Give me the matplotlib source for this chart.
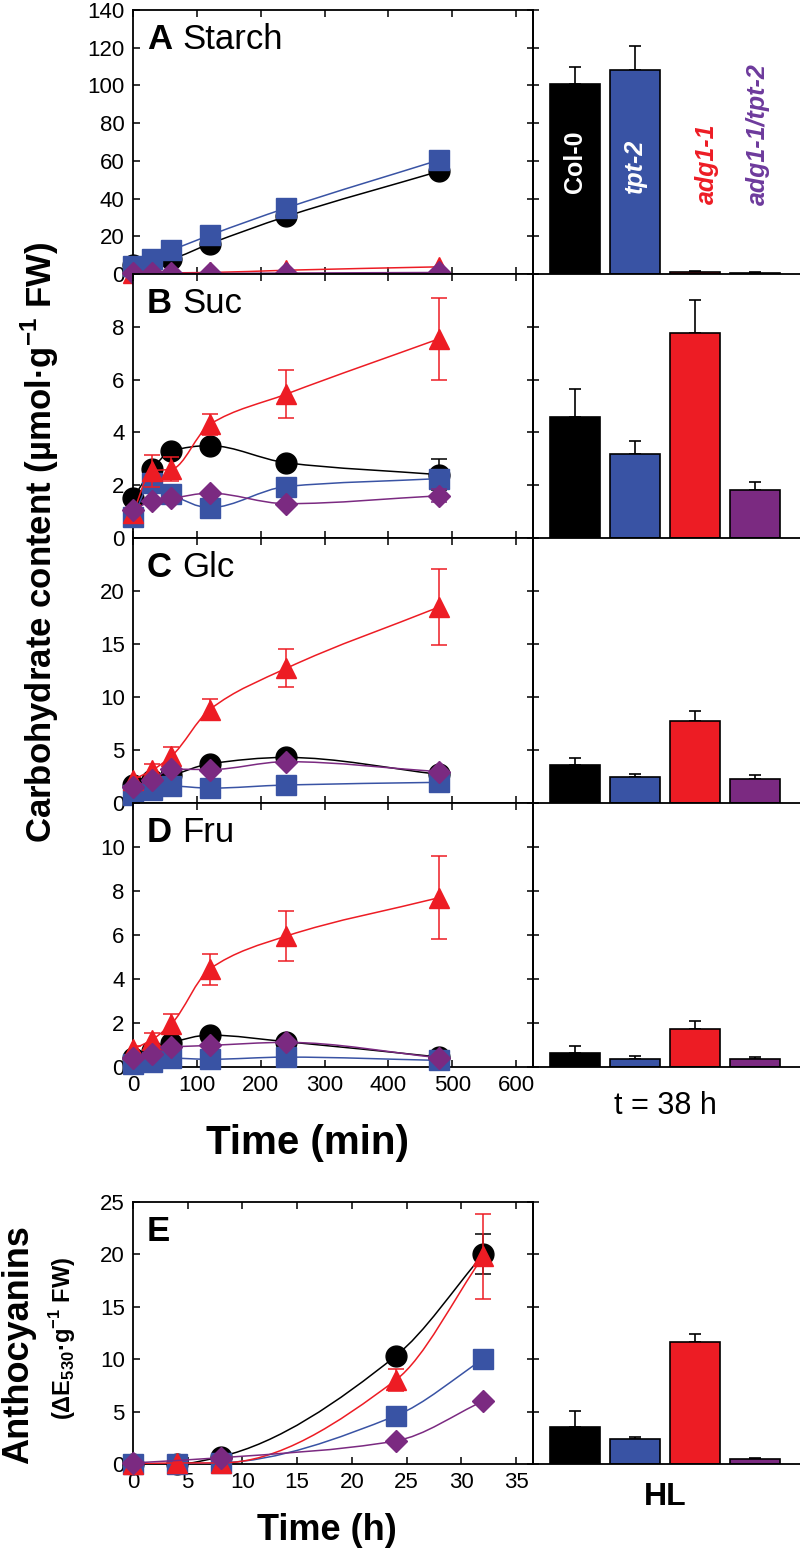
import numpy as np
import matplotlib
matplotlib.use('Agg')
from matplotlib import pyplot as plt
from matplotlib.path import Path
from matplotlib.patches import PathPatch

plt.rcParams['font.family'] = ['Liberation Sans', 'DejaVu Sans']
plt.rcParams['mathtext.fontset'] = 'custom'
plt.rcParams['mathtext.rm'] = 'Liberation Sans'
plt.rcParams['mathtext.bf'] = 'Liberation Sans:bold'

# genotypes, colours, markers
genotypes = ['Col-0', 'tpt-2', 'adg1-1', 'adg1-1/tpt-2']
colors = ['#000000', '#3953a4', '#ed1c24', '#7b2a81']
markers = ['o', 's', '^', 'D']
msizes = [15, 14, 15, 11]

# time courses (min)
time_min = [0, 30, 60, 120, 240, 480]

starch_col0 = [5, 6, 8, 16, 30.5, 54.5]
starch_tpt2 = [4.5, 8, 12.5, 20.5, 35, 60.5]
starch_adg = [0.5, 0.5, 0.6, 0.8, 2.0, 3.8]
starch_dbl = [0.3, 0.3, 0.3, 0.3, 0.5, 0.8]
starch_adg_err = [0, 0, 0, 0, 0, 0]

suc_col0 = [1.5, 2.6, 3.3, 3.5, 2.85, 2.4]
suc_tpt2 = [0.8, 2.1, 1.65, 1.15, 1.95, 2.25]
suc_adg = [0.95, 2.55, 2.6, 4.3, 5.45, 7.55]
suc_dbl = [1.05, 1.4, 1.5, 1.7, 1.3, 1.6]
suc_col0_err = [0, 0, 0, 0, 0, 0.6]
suc_adg_err = [0.3, 0.6, 0.45, 0.4, 0.9, 1.55]
suc_dbl_err = [0, 0, 0, 0, 0, 0.25]

glc_col0 = [1.7, 2.2, 2.6, 3.7, 4.3, 2.7]
glc_tpt2 = [0.8, 1.25, 1.6, 1.4, 1.7, 1.95]
glc_adg = [2.2, 3.1, 4.4, 8.8, 12.7, 18.5]
glc_dbl = [1.55, 2.2, 3.2, 3.15, 3.9, 2.95]
glc_adg_err = [0.3, 0.6, 0.9, 1.0, 1.8, 3.6]

fru_col0 = [0.4, 0.75, 1.1, 1.45, 1.15, 0.45]
fru_tpt2 = [0.15, 0.25, 0.4, 0.35, 0.45, 0.3]
fru_adg = [0.8, 1.25, 1.95, 4.45, 5.95, 7.7]
fru_dbl = [0.42, 0.6, 0.9, 0.98, 1.12, 0.42]
fru_adg_err = [0.15, 0.3, 0.45, 0.7, 1.15, 1.9]

# anthocyanins (h)
time_h = [0, 4, 8, 24, 32]
antho_col0 = [0, 0, 0.7, 10.3, 20.0]
antho_tpt2 = [0, 0, 0.1, 4.6, 10.0]
antho_adg = [0, 0.1, 0.1, 8.0, 19.8]
antho_dbl = [0.1, np.nan, 0.6, 2.2, 6.0]
antho_col0_err = [0, 0, 0, 0, 1.9]
antho_adg_err = [0, 0, 0, 1.05, 4.1]

# bars at t = 38 h and HL
bar_starch = [101, 108, 1.1, 0.6]
bar_starch_err = [9, 13, 0.3, 0.2]
bar_suc = [4.6, 3.2, 7.75, 1.8]
bar_suc_err = [1.05, 0.48, 1.28, 0.31]
bar_glc = [3.6, 2.45, 7.7, 2.3]
bar_glc_err = [0.67, 0.24, 1.0, 0.35]
bar_fru = [0.62, 0.36, 1.74, 0.36]
bar_fru_err = [0.32, 0.13, 0.33, 0.1]
bar_antho = [3.5, 2.4, 11.6, 0.5]
bar_antho_err = [1.6, 0.2, 0.85, 0.12]


def smooth_path(x, y):
    # monotone cubic (pchip) through the points, as bezier segments
    x = np.asarray(x, float)
    y = np.asarray(y, float)
    ok = ~np.isnan(y)
    x, y = x[ok], y[ok]
    h = np.diff(x)
    d = np.diff(y) / h
    m = np.zeros_like(y)
    for i in range(1, len(x) - 1):
        if d[i-1] * d[i] > 0:
            w1 = 2*h[i] + h[i-1]
            w2 = h[i] + 2*h[i-1]
            m[i] = (w1 + w2) / (w1/d[i-1] + w2/d[i])
    m[0] = d[0]
    m[-1] = d[-1]
    verts = [(x[0], y[0])]
    codes = [Path.MOVETO]
    for i in range(len(h)):
        verts += [(x[i] + h[i]/3, y[i] + m[i]*h[i]/3),
                  (x[i+1] - h[i]/3, y[i+1] - m[i+1]*h[i]/3),
                  (x[i+1], y[i+1])]
        codes += [Path.CURVE4]*3
    return Path(verts, codes)


def draw_series(ax, t, ys, errs):
    for k in range(4):
        y = np.asarray(ys[k], float)
        z = 2 + k
        e = errs[k]
        if e is not None:
            e = np.asarray(e, float)
            sel = e > 0
            ax.errorbar(np.asarray(t)[sel], y[sel], yerr=e[sel], fmt='none',
                        ecolor=colors[k], elinewidth=1.1, capsize=6,
                        capthick=1.1, zorder=z + 0.5)
        ax.add_patch(PathPatch(smooth_path(t, y), fill=False,
                               edgecolor=colors[k], lw=1.1, zorder=z))
        ax.plot(t, y, ls='none', marker=markers[k], ms=msizes[k],
                color=colors[k], mec=colors[k], zorder=z + 0.2,
                clip_on=False)


def style_line_ax(ax, ymax, yticks, xmax, xticks, xlabels):
    ax.set_ylim(0, ymax)
    ax.set_xlim(0, xmax)
    ax.set_yticks(yticks)
    ax.set_xticks(xticks)
    ax.tick_params(direction='in', length=5, width=1.1, labelsize=16,
                   top=True, right=False, pad=6)
    if not xlabels:
        ax.tick_params(labelbottom=False)
    for s in ax.spines.values():
        s.set_linewidth(1.3)


def style_bar_ax(ax, vals, errs, ymax, yticks):
    ax.bar(range(4), vals, width=0.82, color=colors, edgecolor='black',
           lw=1.2, zorder=2)
    ax.errorbar(range(4), vals, yerr=[np.zeros(4), errs], fmt='none',
                ecolor='black', elinewidth=1.2, capsize=4, capthick=1.2,
                zorder=1)
    ax.set_xlim(-0.7, 3.75)
    ax.set_ylim(0, ymax)
    ax.set_yticks(yticks)
    ax.set_xticks([])
    ax.tick_params(axis='y', direction='inout', length=8, width=1.1,
                   labelleft=False)
    ax.spines['top'].set_visible(False)
    ax.spines['right'].set_visible(False)
    ax.spines['left'].set_linewidth(1.3)
    ax.spines['bottom'].set_linewidth(1.3)
    ax.patch.set_alpha(0)


fig = plt.figure(figsize=(8, 15.51), dpi=100)
W, H = 800.0, 1551.0


def add_ax(x0, x1, y0, y1):
    return fig.add_axes([x0/W, 1 - y1/H, (x1 - x0)/W, (y1 - y0)/H])


tops = [10, 274, 538, 803]
bots = [274, 538, 803, 1067]
xmax_min = 600 * 400 / 383.0

panels = [
    ('A', 'Starch', [starch_col0, starch_tpt2, starch_adg, starch_dbl],
     [None, None, starch_adg_err, None], 140, range(0, 141, 20),
     bar_starch, bar_starch_err),
    ('B', 'Suc', [suc_col0, suc_tpt2, suc_adg, suc_dbl],
     [suc_col0_err, None, suc_adg_err, suc_dbl_err], 10, range(0, 9, 2),
     bar_suc, bar_suc_err),
    ('C', 'Glc', [glc_col0, glc_tpt2, glc_adg, glc_dbl],
     [None, None, glc_adg_err, None], 25, range(0, 21, 5),
     bar_glc, bar_glc_err),
    ('D', 'Fru', [fru_col0, fru_tpt2, fru_adg, fru_dbl],
     [None, None, fru_adg_err, None], 12, range(0, 11, 2),
     bar_fru, bar_fru_err),
]

for i, (let, name, ys, errs, ymax, yt, bv, be) in enumerate(panels):
    ax = add_ax(133, 533, tops[i], bots[i])
    draw_series(ax, time_min, ys, errs)
    style_line_ax(ax, ymax, list(yt) + ([ymax] if i in (1, 2, 3) else []),
                  xmax_min, range(0, 601, 100), i == 3)
    if i in (1, 2, 3):
        labs = [str(v) for v in yt] + ['']
        ax.set_yticklabels(labs)
    ax.text(0.035, 0.95, let, transform=ax.transAxes, fontsize=25,
            fontweight='bold', va='top', ha='left')
    ax.text(0.1225, 0.95, name, transform=ax.transAxes, fontsize=25,
            va='top', ha='left')
    bx = add_ax(533, 800, tops[i], bots[i])
    style_bar_ax(bx, bv, be, ymax, list(yt) + ([ymax] if i else []))
    if i == 0:
        bx.text(0, 43, 'Col-0', rotation=90, color='white', fontsize=18,
                fontweight='bold', ha='center', va='bottom', zorder=5)
        bx.text(1, 43, 'tpt-2', rotation=90, color='white', fontsize=18,
                fontweight='bold', style='italic', ha='center', va='bottom',
                zorder=5)
        bx.text(2.2, 37, 'adg1-1', rotation=90, color='#ed1c24', fontsize=18,
                fontweight='bold', style='italic', ha='center', va='bottom')
        bx.text(3.05, 36.5, 'adg1-1/tpt-2', rotation=90, color='#6d3a9c',
                fontsize=18, fontweight='bold', style='italic', ha='center',
                va='bottom')
    if i == 3:
        bx.text(1.5, -0.09, 't = 38 h', transform=bx.get_xaxis_transform(),
                fontsize=22, ha='center', va='top')

fig.text(307/W, 1 - 1143/H, 'Time (min)', fontsize=29, fontweight='bold',
         ha='center', va='center')
fig.text(40/W, 1 - 542/H,
         r'Carbohydrate content (µmol·g$^{\mathbf{-1}}$ FW)', fontsize=25,
         fontweight='bold', rotation=90, ha='center', va='center')

# panel E
ax = add_ax(133, 533, 1202, 1464)
draw_series(ax, time_h, [antho_col0, antho_tpt2, antho_adg, antho_dbl],
            [antho_col0_err, None, antho_adg_err, None])
style_line_ax(ax, 25, range(0, 26, 5), 35 * 400 / 383.0, range(0, 36, 5), True)
ax.text(0.035, 0.95, 'E', transform=ax.transAxes, fontsize=25,
        fontweight='bold', va='top', ha='left')
bx = add_ax(533, 800, 1202, 1464)
style_bar_ax(bx, bar_antho, bar_antho_err, 25, range(0, 26, 5))
bx.text(1.5, -0.07, 'HL', transform=bx.get_xaxis_transform(), fontsize=23,
        fontweight='bold', ha='center', va='top')

fig.text(327/W, 1 - 1530/H, 'Time (h)', fontsize=26, fontweight='bold',
         ha='center', va='center')
fig.text(19/W, 1 - 1345/H, 'Anthocyanins', fontsize=26, fontweight='bold',
         rotation=90, ha='center', va='center')
fig.text(63/W, 1 - 1338/H, r'(ΔE$_{\mathbf{530}}$·g$^{\mathbf{-1}}$ FW)',
         fontsize=17, fontweight='bold', rotation=90, ha='center',
         va='center')

fig.savefig('out.png', dpi=100)
